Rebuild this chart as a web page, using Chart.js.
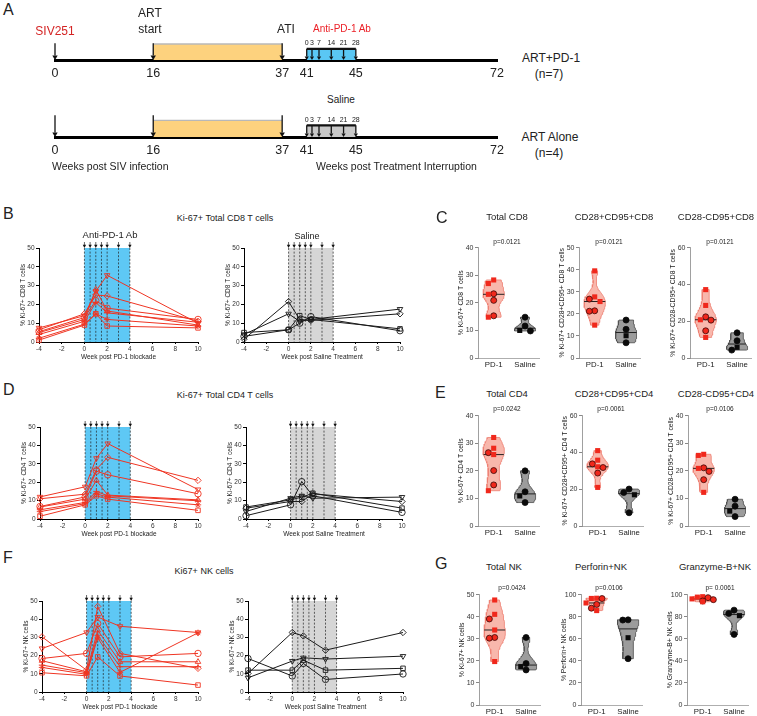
<!DOCTYPE html>
<html>
<head>
<meta charset="utf-8">
<title>Ki-67 after PD-1 blockade</title>
<script src="https://cdn.jsdelivr.net/npm/chart.js@4.4.1/dist/chart.umd.min.js"></script>
<style>
  html, body { margin: 0; padding: 0; background: #fff; }
  body { position: relative; width: 757px; height: 716px; overflow: hidden; font-family: 'Liberation Sans', Arial, sans-serif; color: #222; }
  canvas { position: absolute; }
  .t { position: absolute; white-space: nowrap; line-height: 1; z-index: 2; }
</style>
</head>
<body>
<script>
// ---- timeline (panel A) ----
const timelineTicks = [0, 16, 37, 41, 45, 72];
const infectionWeek = 0;
const artStartWeek = 16;
const atiWeek = 37;
const treatStartWeek = 41;
const doseDays = [0, 3, 7, 14, 21, 28];

// ---- longitudinal Ki-67 (panels B, D, F) ----
const weeksT = [-4, 0, 1, 2, 10];
const weeksNK = [-4, 0, 1, 3, 10];
const doseWeeks = [0, 0.5, 1, 1.5, 2, 3, 4];

const cd8PD1 = [
  [7.5, 14.0, 27.0, 35.5, 10.0],
  [6.5, 15.0, 25.0, 24.5, 11.0],
  [5.5, 13.0, 22.0, 18.0, 12.0],
  [5.0, 12.0, 28.0, 16.5, 9.0],
  [4.0, 11.0, 21.0, 15.5, 10.5],
  [2.0, 9.5, 15.0, 12.0, 8.5],
  [1.0, 9.0, 15.0, 8.5, 7.5]
];
const cd8Sal = [
  [3.0, 6.5, 10.0, 13.5, 6.0],
  [5.0, 6.5, 14.0, 12.0, 7.0],
  [1.5, 21.5, 12.0, 11.5, 15.0],
  [4.0, 15.0, 11.0, 12.0, 17.5]
];
const cd4PD1 = [
  [12.0, 17.5, 33.0, 41.0, 16.0],
  [11.0, 13.5, 27.0, 33.5, 21.0],
  [6.8, 12.0, 26.0, 24.0, 13.7],
  [6.5, 10.8, 21.0, 13.0, 10.4],
  [5.0, 9.0, 15.0, 12.6, 9.9],
  [4.0, 8.3, 13.7, 11.9, 7.7],
  [1.5, 7.7, 12.6, 10.8, 4.7]
];
const cd4Sal = [
  [1.8, 7.7, 20.3, 12.6, 3.6],
  [6.5, 10.4, 11.9, 14.0, 5.9],
  [5.9, 9.5, 9.5, 13.7, 9.5],
  [4.1, 11.3, 12.6, 11.3, 11.9]
];
const nkPD1 = [
  [23.9, 32.7, 41.2, 36.1, 32.7],
  [30.3, 12.0, 47.0, 21.2, 13.0],
  [18.4, 21.2, 37.6, 19.3, 21.2],
  [17.2, 11.1, 33.9, 16.6, 16.6],
  [14.8, 10.6, 31.2, 13.9, 13.9],
  [13.5, 9.7, 29.7, 10.8, 32.5],
  [10.6, 8.9, 19.3, 8.8, 3.8]
];
const nkSal = [
  [18.4, 8.8, 15.7, 6.9, 9.9],
  [12.0, 12.0, 17.5, 12.0, 13.0],
  [10.2, 32.7, 30.8, 23.0, 32.7],
  [7.8, 17.0, 18.8, 18.1, 19.7]
];

// ---- violin panels (C, E, G) ----
const groups = ['PD-1', 'Saline'];
const cd8TotPD1 = [28.3, 27.0, 23.3, 23.1, 20.9, 15.3, 14.8];
const cd8TotSal = [14.8, 11.6, 10.0, 9.8];
const cd8MemPD1 = [39.5, 27.7, 26.7, 25.6, 21.4, 21.2, 14.9];
const cd8MemSal = [17.2, 13.0, 10.1, 6.9];
const cd8EffPD1 = [37.2, 28.6, 22.4, 20.8, 20.6, 14.8, 11.2];
const cd8EffSal = [13.7, 9.4, 5.8, 4.3];
const cd4TotPD1 = [32.1, 28.2, 26.6, 25.9, 20.1, 14.9, 12.8];
const cd4TotSal = [20.0, 12.4, 10.9, 8.5];
const cd4MemPD1 = [41.0, 35.8, 33.8, 32.2, 31.8, 28.8, 21.0];
const cd4MemSal = [20.1, 18.2, 17.0, 7.2];
const cd4EffPD1 = [26.0, 25.6, 21.1, 20.9, 19.8, 16.8, 12.2];
const cd4EffSal = [9.7, 7.2, 5.4, 3.4];
const nkTotPD1 = [47.6, 41.1, 39.0, 34.0, 30.6, 30.3, 19.7];
const nkTotSal = [30.6, 18.8, 17.4, 15.9];
const nkPrfPD1 = [96.8, 96.6, 96.5, 92.5, 91.2, 87.8, 85.6];
const nkPrfSal = [77.2, 77.0, 61.0, 42.0];
const nkGzbPD1 = [98.2, 97.8, 97.3, 96.2, 95.5, 94.3, 93.6];
const nkGzbSal = [86.0, 83.0, 81.0, 64.0];

const yMaxC = [40, 50, 60], yStepC = [10, 10, 20];
const yMaxE = [40, 60, 40], yStepE = [10, 20, 10];
const yMaxG = [50, 100, 100], yStepG = [10, 20, 20];
const pC = ['p=0.0121', 'p=0.0121', 'p=0.0121'];
const pE = ['p=0.0242', 'p=0.0061', 'p=0.0106'];
const pG = ['p=0.0424', 'p=0.0106', 'p= 0.0061'];

// ---------------------------------------------------------------
const FONT = "'Liberation Sans', Arial, sans-serif";
Chart.defaults.font.family = FONT;
Chart.defaults.color = '#222';

const RED = '#ef3523';
const markersPD1 = [
  { s: 'triangle', r: 180 }, { s: 'rectRot', r: 0 }, { s: 'circle', r: 0 }, { s: 'triangle', r: 0 },
  { s: 'cross', r: 0 }, { s: 'star', r: 0 }, { s: 'rect', r: 0 }
];
const markersSal = [{ s: 'circle', r: 0 }, { s: 'rect', r: 0 }, { s: 'rectRot', r: 0 }, { s: 'triangle', r: 180 }];
const shapesPD1 = ['rect', 'rect', 'circle', 'rect', 'circle', 'circle', 'rect'];
const shapesSal = ['circle', 'circle', 'rect', 'circle'];

function addCanvas(left, top, w, h) {
  const c = document.createElement('canvas');
  c.width = w; c.height = h;
  c.style.left = left + 'px'; c.style.top = top + 'px';
  c.style.width = w + 'px'; c.style.height = h + 'px';
  document.body.appendChild(c);
  return c;
}

function label(text, x, y, size, opts = {}) {
  const d = document.createElement('div');
  d.className = 't';
  d.textContent = text;
  d.style.left = x + 'px';
  d.style.top = y + 'px';
  d.style.fontSize = size + 'px';
  d.style.transform = opts.left ? 'translate(0,-50%)' : 'translate(-50%,-50%)';
  if (opts.color) d.style.color = opts.color;
  document.body.appendChild(d);
}

// the dosing window is drawn twice as wide as real time, as in the schematic
function warp(w) {
  return w + Math.min(Math.max(w - 41, 0), 4) - Math.min(Math.max(w - 45, 0), 27) * 4 / 27;
}

const timelineMarks = {
  id: 'timelineMarks',
  afterDatasetsDraw(chart, args, o) {
    const { ctx, scales: { x, y } } = chart;
    const base = y.getPixelForValue(0);
    ctx.save();
    ctx.strokeStyle = '#111';
    ctx.fillStyle = '#111';
    const arrow = (px, top, head) => {
      ctx.lineWidth = 1.3;
      ctx.beginPath(); ctx.moveTo(px, top); ctx.lineTo(px, base - head); ctx.stroke();
      ctx.beginPath();
      ctx.moveTo(px - head * 0.6, base - head); ctx.lineTo(px + head * 0.6, base - head); ctx.lineTo(px, base);
      ctx.closePath(); ctx.fill();
    };
    o.events.forEach(v => arrow(x.getPixelForValue(warp(v)), y.getPixelForValue(o.eventTop), 4.5));
    const dTop = y.getPixelForValue(0.7);
    o.doses.forEach(v => arrow(x.getPixelForValue(v), dTop, 3.5));
    ctx.font = '7px ' + FONT;
    ctx.textAlign = 'center';
    ctx.textBaseline = 'bottom';
    ctx.fillStyle = '#222';
    o.doses.forEach((v, i) => ctx.fillText(doseDays[i], x.getPixelForValue(v), dTop - 2));
    ctx.restore();
  }
};

function makeTimeline(areaTop, baseline, boxColor, eventTop) {
  const padT = 4, axisH = 24;
  const cv = addCanvas(40, areaTop - padT, 470, baseline - areaTop + padT + axisH);
  const doseX = doseDays.map(d => warp(treatStartWeek + d / 7));
  new Chart(cv, {
    type: 'scatter',
    data: {
      datasets: [
        { data: [{ x: artStartWeek, y: 1 }, { x: atiWeek, y: 1 }], showLine: true, fill: 'origin',
          backgroundColor: '#fdd27e', borderColor: '#b8b8b8', borderWidth: 1.3, pointRadius: 0 },
        { data: [{ x: doseX[0], y: 0.7 }, { x: doseX[doseX.length - 1], y: 0.7 }], showLine: true, fill: 'origin',
          backgroundColor: boxColor, borderColor: '#111', borderWidth: 2.2, pointRadius: 0 }
      ]
    },
    options: {
      responsive: false,
      animation: false,
      layout: { padding: { left: 15, right: 10, top: padT, bottom: 0 } },
      plugins: {
        legend: { display: false },
        tooltip: { enabled: false },
        timelineMarks: { events: [infectionWeek, artStartWeek, atiWeek], eventTop, doses: doseX }
      },
      scales: {
        x: {
          type: 'linear', min: 0, max: 72,
          afterFit: s => { s.height = axisH; },
          afterBuildTicks: s => { s.ticks = timelineTicks.map(v => ({ value: warp(v) })); },
          ticks: { autoSkip: false, maxRotation: 0, padding: 6, font: { size: 12.5 }, color: '#222',
                   callback: (v, i) => timelineTicks[i] },
          grid: { display: false, drawTicks: false },
          border: { display: true, color: '#000', width: 3 }
        },
        y: { display: false, min: 0, max: 1.5 }
      }
    },
    plugins: [timelineMarks]
  });
}

const doseMarks = {
  id: 'doseMarks',
  beforeDatasetsDraw(chart, args, o) {
    const { ctx, scales: { x, y } } = chart;
    const top = y.getPixelForValue(y.max), bot = y.getPixelForValue(y.min);
    const xs = o.weeks.map(w => x.getPixelForValue(w));
    ctx.save();
    ctx.fillStyle = o.band;
    ctx.fillRect(xs[0], top, xs[xs.length - 1] - xs[0], bot - top);
    ctx.strokeStyle = '#222';
    ctx.lineWidth = 0.7;
    ctx.setLineDash([2, 1.6]);
    xs.forEach(px => { ctx.beginPath(); ctx.moveTo(px, top); ctx.lineTo(px, bot); ctx.stroke(); });
    ctx.setLineDash([]);
    ctx.fillStyle = '#111';
    xs.forEach(px => {
      ctx.beginPath(); ctx.moveTo(px, top - 6); ctx.lineTo(px, top - 2); ctx.stroke();
      ctx.beginPath(); ctx.moveTo(px - 1.7, top - 3.2); ctx.lineTo(px + 1.7, top - 3.2); ctx.lineTo(px, top);
      ctx.closePath(); ctx.fill();
    });
    ctx.restore();
  }
};

function makeLine(plot, series, weeks, color, markers, band, xTitle, yTitle) {
  const W = 20, H = 19, padT = 9, padR = 7;
  const cv = addCanvas(plot[0] - W, plot[1] - padT, plot[2] - plot[0] + W + padR, plot[3] - plot[1] + padT + H);
  new Chart(cv, {
    type: 'scatter',
    data: {
      datasets: series.map((vals, i) => ({
        data: vals.map((v, j) => ({ x: weeks[j], y: v })),
        showLine: true, borderColor: color, borderWidth: 1, clip: false,
        pointStyle: markers[i].s, pointRotation: markers[i].r, pointRadius: 3.2,
        pointBackgroundColor: 'rgba(255,255,255,0)', pointBorderColor: color, pointBorderWidth: 0.9
      }))
    },
    options: {
      responsive: false,
      animation: false,
      layout: { padding: { left: 0, right: padR, top: padT, bottom: 0 } },
      plugins: { legend: { display: false }, tooltip: { enabled: false }, doseMarks: { weeks: doseWeeks, band } },
      scales: {
        x: {
          type: 'linear', min: -4, max: 10,
          afterFit: s => { s.height = H; },
          ticks: { stepSize: 2, padding: 1, maxRotation: 0, font: { size: 6.5 }, color: '#333' },
          grid: { drawOnChartArea: false, tickLength: 2, color: '#000' },
          border: { color: '#000' },
          title: { display: true, text: xTitle, font: { size: 6.5 }, padding: 0, color: '#222' }
        },
        y: {
          min: 0, max: 50,
          afterFit: s => { s.width = W; },
          ticks: { stepSize: 10, padding: 1.5, font: { size: 6.5 }, color: '#333' },
          grid: { drawOnChartArea: false, tickLength: 3, color: '#000' },
          border: { color: '#000' },
          title: { display: true, text: yTitle, font: { size: 6.5 }, padding: 0, color: '#222' }
        }
      }
    },
    plugins: [doseMarks]
  });
}

function median(vals) {
  const s = [...vals].sort((a, b) => a - b), m = s.length >> 1;
  return s.length % 2 ? s[m] : (s[m - 1] + s[m]) / 2;
}

// gaussian kernel outline, cut at the lowest and highest value
function violinShape(vals, c, half) {
  const n = vals.length;
  const lo = Math.min(...vals), hi = Math.max(...vals);
  const mean = vals.reduce((a, b) => a + b, 0) / n;
  const sd = Math.sqrt(vals.reduce((a, b) => a + (b - mean) ** 2, 0) / (n - 1));
  const h = Math.max(0.64 * sd * Math.pow(n, -0.2), (hi - lo) * 0.08, 0.3);
  const dens = y => vals.reduce((a, v) => a + Math.exp(-0.5 * ((y - v) / h) ** 2), 0);
  const ys = [];
  for (let i = 0; i <= 40; i++) ys.push(lo + (hi - lo) * i / 40);
  const peak = Math.max(...ys.map(dens));
  const wAt = y => half * dens(y) / peak;
  const right = ys.map(y => ({ x: c + wAt(y), y }));
  const left = ys.slice().reverse().map(y => ({ x: c - wAt(y), y }));
  return { outline: right.concat(left, [right[0]]), wAt };
}

function beeswarm(vals, c, ymax) {
  const s = 0.17, gap = ymax * 0.055, placed = [];
  return vals.map(y => {
    const dx = [0, -s, s, -2 * s, 2 * s].find(d =>
      placed.every(p => Math.abs(p.y - y) > gap || Math.abs(p.x - d) > s * 0.9)) ?? 0;
    placed.push({ x: dx, y });
    return c + dx;
  });
}

function makeViolin(plot, pd1, sal, ymax, step, yTitle) {
  const W = 21, H = 12, padT = 5, padR = 4;
  const cv = addCanvas(plot[0] - W, plot[1] - padT, plot[2] - plot[0] + W + padR, plot[3] - plot[1] + padT + H);
  const styles = [
    { fill: 'rgba(247,170,158,0.85)', line: '#ee7e70', dot: '#f0281c', ring: '#3a0806', shapes: shapesPD1 },
    { fill: '#9c9c9c', line: '#4d4d4d', dot: '#0a0a0a', ring: '#0a0a0a', shapes: shapesSal }
  ];
  const datasets = [];
  [pd1, sal].forEach((vals, g) => {
    const c = g + 1, st = styles[g];
    const v = violinShape(vals, c, 0.34);
    datasets.push({ data: v.outline, showLine: true, fill: 'shape', backgroundColor: st.fill,
      borderColor: st.line, borderWidth: 0.8, pointRadius: 0, tension: 0, order: 3 });
    const m = median(vals), w = v.wAt(m);
    datasets.push({ data: [{ x: c - w, y: m }, { x: c + w, y: m }], showLine: true,
      borderColor: '#222', borderWidth: 1, pointRadius: 0, order: 2 });
    const sorted = [...vals].sort((a, b) => b - a);
    const xs = beeswarm(sorted, c, ymax);
    const shp = sorted.map((_, i) => st.shapes[i % st.shapes.length]);
    datasets.push({
      data: sorted.map((y, i) => ({ x: xs[i], y })), showLine: false, clip: false, order: 1,
      pointStyle: shp,
      pointRadius: shp.map(s => (s === 'rect' ? 3.6 : 3)),
      pointBackgroundColor: st.dot,
      pointBorderColor: shp.map(s => (s === 'rect' ? st.dot : st.ring)),
      pointBorderWidth: shp.map(s => (s === 'rect' ? 0 : 0.8))
    });
  });
  new Chart(cv, {
    type: 'scatter',
    data: { datasets },
    options: {
      responsive: false,
      animation: false,
      layout: { padding: { left: 0, right: padR, top: padT, bottom: 0 } },
      plugins: { legend: { display: false }, tooltip: { enabled: false } },
      scales: {
        x: {
          type: 'linear', min: 0.5, max: 2.45,
          afterFit: s => { s.height = H; },
          afterBuildTicks: s => { s.ticks = groups.map((_, i) => ({ value: i + 1 })); },
          ticks: { autoSkip: false, maxRotation: 0, padding: 2.5, font: { size: 7.8 }, color: '#222',
                   callback: (v, i) => groups[i] },
          grid: { drawOnChartArea: false, drawTicks: false },
          border: { color: '#999', width: 0.8 }
        },
        y: {
          min: 0, max: ymax,
          afterFit: s => { s.width = W; },
          ticks: { stepSize: step, padding: 1.5, font: { size: 7 }, color: '#333' },
          grid: { drawOnChartArea: false, tickLength: 3, color: '#888' },
          border: { color: '#888', width: 0.8 },
          title: { display: true, text: yTitle, font: { size: 6.8 }, padding: 0, color: '#222' }
        }
      }
    }
  });
}

// ---- panel A ----
makeTimeline(36, 60, '#5ac7f4', 1.05);
makeTimeline(112, 137, '#c8c8c8', 1.3);

// ---- panels B, D, F ----
const xPD1 = 'Week post PD-1 blockade', xSal = 'Week post Saline Treatment';
makeLine([39, 248, 198, 342], cd8PD1, weeksT, RED, markersPD1, '#5ec8f5', xPD1, '% Ki-67+ CD8 T cells');
makeLine([244, 248, 400, 342], cd8Sal, weeksT, '#1a1a1a', markersSal, '#d6d6d6', xSal, '% Ki-67+ CD8 T cells');
makeLine([40, 427, 198, 519], cd4PD1, weeksT, RED, markersPD1, '#5ec8f5', xPD1, '% Ki-67+ CD4 T cells');
makeLine([246, 427, 402, 519], cd4Sal, weeksT, '#1a1a1a', markersSal, '#d6d6d6', xSal, '% Ki-67+ CD4 T cells');
makeLine([42, 601, 198, 692], nkPD1, weeksNK, RED, markersPD1, '#5ec8f5', xPD1, '% Ki-67+ NK cells');
makeLine([248, 601, 403, 692], nkSal, weeksNK, '#1a1a1a', markersSal, '#d6d6d6', xSal, '% Ki-67+ NK cells');

// ---- panels C, E, G ----
makeViolin([478, 247, 540, 358], cd8TotPD1, cd8TotSal, yMaxC[0], yStepC[0], '% Ki-67+ CD8 T cells');
makeViolin([579, 247, 641, 358], cd8MemPD1, cd8MemSal, yMaxC[1], yStepC[1], '% Ki-67+ CD28+CD95+ CD8 T cells');
makeViolin([690, 247, 752, 358], cd8EffPD1, cd8EffSal, yMaxC[2], yStepC[2], '% Ki-67+ CD28-CD95+ CD8 T cells');
makeViolin([478, 415, 540, 526], cd4TotPD1, cd4TotSal, yMaxE[0], yStepE[0], '% Ki-67+ CD4 T cells');
makeViolin([582, 415, 644, 526], cd4MemPD1, cd4MemSal, yMaxE[1], yStepE[1], '% Ki-67+ CD28+CD95+ CD4 T cells');
makeViolin([688, 415, 750, 526], cd4EffPD1, cd4EffSal, yMaxE[2], yStepE[2], '% Ki-67+ CD28-CD95+ CD4 T cells');
makeViolin([479, 594, 541, 705], nkTotPD1, nkTotSal, yMaxG[0], yStepG[0], '% Ki-67+ NK cells');
makeViolin([581, 594, 643, 705], nkPrfPD1, nkPrfSal, yMaxG[1], yStepG[1], '% Perforin+ NK cells');
makeViolin([687, 594, 749, 705], nkGzbPD1, nkGzbSal, yMaxG[2], yStepG[2], '% Granzyme-B+ NK cells');

// ---- text ----
label('A', 3, 10, 16, { left: true });
label('SIV251', 55, 31, 12, { color: '#d42424' });
label('ART', 150, 13, 12);
label('start', 150, 29, 12);
label('ATI', 286, 29, 12);
label('Anti-PD-1 Ab', 342, 29, 10, { color: '#ec2027' });
label('ART+PD-1', 551, 58, 12);
label('(n=7)', 549, 74, 12);
label('Saline', 341, 100, 10);
label('ART Alone', 550, 137, 12);
label('(n=4)', 549, 153, 12);
label('Weeks post SIV infection', 52, 166, 10.5, { left: true });
label('Weeks post Treatment Interruption', 316, 166, 10.5, { left: true });

label('B', 3, 214, 16, { left: true });
label('Ki-67+ Total CD8 T cells', 225, 217.5, 9);
label('Anti-PD-1 Ab', 110, 234.5, 9.5);
label('Saline', 307, 235.5, 9);
label('D', 3, 390, 16, { left: true });
label('Ki-67+ Total CD4 T cells', 225, 395, 9);
label('F', 3, 558, 16, { left: true });
label('Ki67+ NK cells', 204, 571, 9);

label('C', 436, 218, 16, { left: true });
['Total CD8', 'CD28+CD95+CD8', 'CD28-CD95+CD8'].forEach((t, i) => label(t, [507, 614, 716][i], 217, 9.5));
pC.forEach((t, i) => label(t, [507, 609, 720][i], 242, 6.5));
label('E', 435, 393, 16, { left: true });
['Total CD4', 'CD28+CD95+CD4', 'CD28-CD95+CD4'].forEach((t, i) => label(t, [507, 614, 716][i], 394, 9.5));
pE.forEach((t, i) => label(t, [507, 611, 720][i], 409, 6.5));
label('G', 435, 564, 16, { left: true });
['Total NK', 'Perforin+NK', 'Granzyme-B+NK'].forEach((t, i) => label(t, [504, 601, 715][i], 567, 9.5));
pG.forEach((t, i) => label(t, [512, 609, 720][i], 588, 6.5));
</script>
</body>
</html>
